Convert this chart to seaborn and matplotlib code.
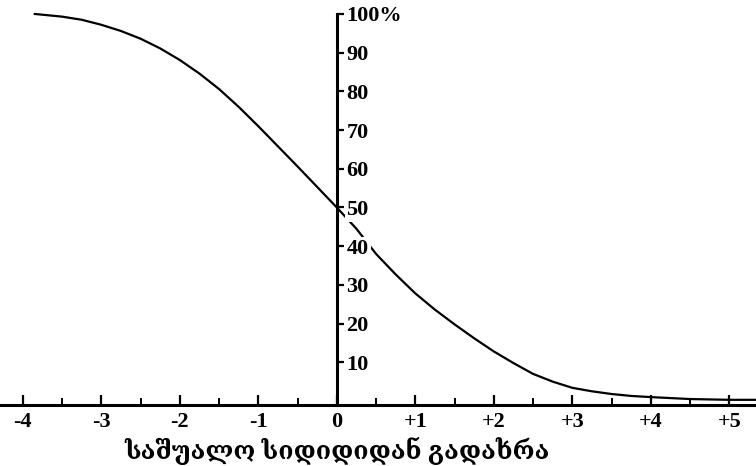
import matplotlib
matplotlib.use("Agg")
import matplotlib.pyplot as plt
from matplotlib.ticker import FixedLocator
import seaborn as sns

# Share of values lying above a given deviation from the mean (in %)
deviation = [-3.85, -3.5, -3.25, -3.0, -2.75, -2.5, -2.25, -2.0, -1.75, -1.5,
             -1.25, -1.0, -0.75, -0.5, -0.25, 0.0, 0.25, 0.5, 0.75, 1.0,
             1.25, 1.5, 1.75, 2.0, 2.25, 2.5, 2.75, 3.0, 3.25, 3.5,
             3.75, 4.0, 4.5, 5.0, 5.4]
share = [100.0, 99.3, 98.5, 97.2, 95.6, 93.6, 91.1, 88.1, 84.6, 80.6,
         76.0, 71.0, 65.8, 60.6, 55.3, 50.0, 44.5, 38.0, 32.7, 27.8,
         23.6, 19.8, 16.2, 12.8, 9.8, 7.0, 5.0, 3.4, 2.5, 1.8,
         1.3, 1.0, 0.5, 0.3, 0.3]

x_ticks = [-4, -3, -2, -1, 0, 1, 2, 3, 4, 5]
x_tick_labels = ["-4", "-3", "-2", "-1", "0", "+1", "+2", "+3", "+4", "+5"]
x_minor = [-3.5, -2.5, -1.5, -0.5, 0.5, 1.5, 2.5, 3.5, 4.5]
y_ticks = [10, 20, 30, 40, 50, 60, 70, 80, 90, 100]
y_tick_labels = ["10", "20", "30", "40", "50", "60", "70", "80", "90", "100%"]
x_title = "საშუალო სიდიდიდან გადახრა"

sns.set_theme(style="white")
serif = ["Liberation Serif", "DejaVu Serif", "DejaVu Sans"]
plt.rcParams["font.family"] = serif

fig = plt.figure(figsize=(7.56, 4.66), dpi=100)
ax = fig.add_axes([0, 0, 1, 1])
ax.set_facecolor("white")

sns.lineplot(x=deviation, y=share, ax=ax, color="black", linewidth=1.6,
             sort=False)

ax.set_xlim(-4.29, 5.34)
ax.set_ylim(-16.8, 103.6)

# vertical axis through zero, labels on its right side
for side in ("top", "left"):
    ax.spines[side].set_visible(False)
ax.spines["right"].set_position(("data", 0))
ax.spines["right"].set_bounds(-1, 100)
ax.spines["bottom"].set_position(("data", -1))
for side in ("right", "bottom"):
    ax.spines[side].set_color("black")
    ax.spines[side].set_linewidth(2.2)

ax.yaxis.tick_right()
ax.yaxis.set_label_position("right")
ax.set_yticks(y_ticks)
ax.set_yticklabels(y_tick_labels, fontsize=16, fontweight="bold",
                   family=serif)
ax.tick_params(axis="y", direction="out", length=5, width=1.6,
               color="black", pad=2, labelcolor="black")

ax.set_xticks(x_ticks)
ax.set_xticklabels(x_tick_labels, fontsize=16, fontweight="bold",
                   family=serif)
ax.xaxis.set_minor_locator(FixedLocator(x_minor))
ax.tick_params(axis="x", which="major", direction="in", length=7, width=1.6,
               color="black", pad=5, labelcolor="black", bottom=True)
ax.tick_params(axis="x", which="minor", direction="in", length=5, width=1.4,
               color="black", bottom=True)

ax.set_axisbelow(False)
for lbl in ax.get_yticklabels():
    lbl.set_bbox(dict(facecolor="white", edgecolor="none", pad=1.5))

ax.set_xlabel(x_title, fontsize=18, fontweight="bold", family=serif,
              color="black", va="center", ha="center")
ax.xaxis.set_label_coords(0.446, 0.032)
ax.set_ylabel("")
ax.grid(False)

fig.savefig("out.png", dpi=100, facecolor="white")
